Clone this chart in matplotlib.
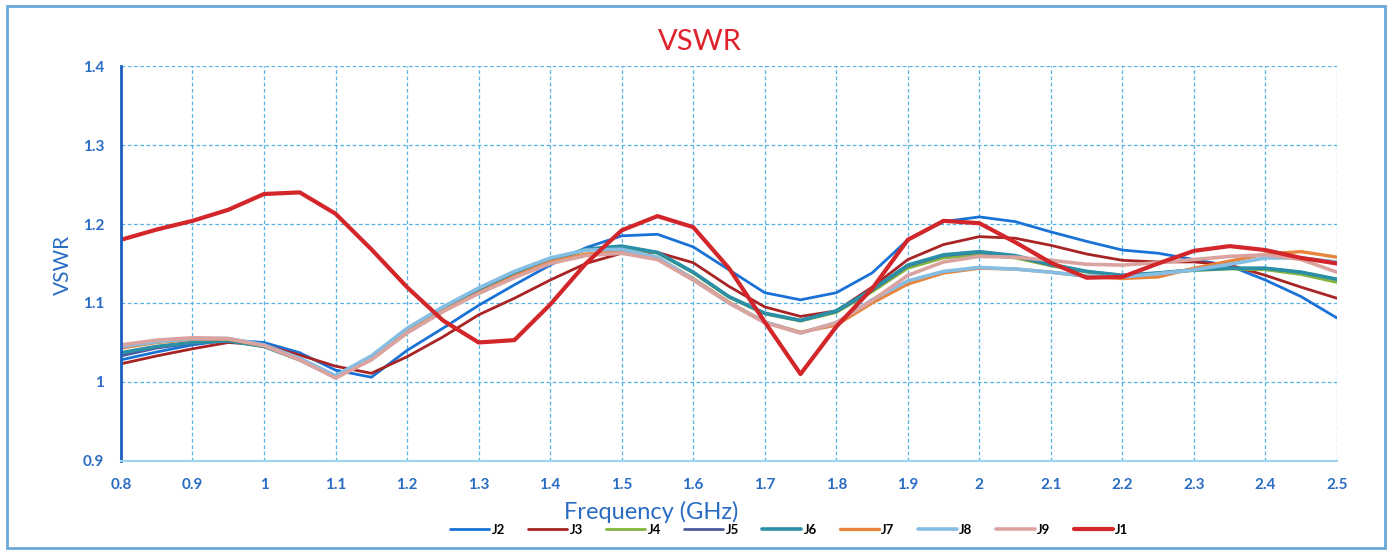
import numpy as np
import matplotlib
matplotlib.use("Agg")
import matplotlib.pyplot as plt
from matplotlib.patches import Rectangle

plt.rcParams['font.family'] = ['Lato', 'DejaVu Sans']

# frequency points (GHz)
freq = [0.80, 0.85, 0.90, 0.95, 1.00, 1.05, 1.10, 1.15, 1.20, 1.25, 1.30, 1.35,
        1.40, 1.45, 1.50, 1.55, 1.60, 1.65, 1.70, 1.75, 1.80, 1.85, 1.90, 1.95,
        2.00, 2.05, 2.10, 2.15, 2.20, 2.25, 2.30, 2.35, 2.40, 2.45, 2.50]

j2 = [1.028, 1.038, 1.047, 1.053, 1.050, 1.037, 1.015, 1.006, 1.040, 1.068, 1.097, 1.123,
      1.148, 1.170, 1.185, 1.187, 1.171, 1.142, 1.113, 1.104, 1.113, 1.138, 1.180, 1.203,
      1.209, 1.203, 1.190, 1.178, 1.167, 1.163, 1.155, 1.147, 1.129, 1.108, 1.081]
j3 = [1.023, 1.033, 1.042, 1.050, 1.047, 1.034, 1.020, 1.011, 1.032, 1.057, 1.085, 1.106,
      1.129, 1.150, 1.163, 1.164, 1.151, 1.121, 1.095, 1.083, 1.090, 1.120, 1.155, 1.174,
      1.184, 1.182, 1.173, 1.162, 1.154, 1.152, 1.152, 1.148, 1.135, 1.120, 1.106]
j4 = [1.035, 1.044, 1.050, 1.052, 1.045, 1.028, 1.006, 1.030, 1.064, 1.091, 1.115, 1.136,
      1.153, 1.167, 1.171, 1.163, 1.138, 1.107, 1.086, 1.077, 1.088, 1.114, 1.144, 1.157,
      1.161, 1.157, 1.147, 1.139, 1.134, 1.137, 1.141, 1.143, 1.142, 1.136, 1.126]
j5 = [1.033, 1.043, 1.049, 1.052, 1.045, 1.028, 1.006, 1.030, 1.064, 1.092, 1.116, 1.137,
      1.154, 1.168, 1.172, 1.164, 1.139, 1.108, 1.087, 1.078, 1.089, 1.116, 1.147, 1.160,
      1.164, 1.159, 1.148, 1.140, 1.135, 1.138, 1.142, 1.144, 1.144, 1.139, 1.130]
j6 = [1.037, 1.045, 1.050, 1.052, 1.045, 1.028, 1.006, 1.030, 1.064, 1.092, 1.116, 1.137,
      1.154, 1.168, 1.172, 1.164, 1.139, 1.108, 1.087, 1.078, 1.090, 1.117, 1.148, 1.161,
      1.165, 1.160, 1.149, 1.140, 1.135, 1.138, 1.142, 1.144, 1.144, 1.139, 1.130]
j7 = [1.043, 1.050, 1.054, 1.054, 1.046, 1.028, 1.006, 1.030, 1.064, 1.090, 1.113, 1.134,
      1.152, 1.162, 1.165, 1.157, 1.131, 1.101, 1.076, 1.063, 1.072, 1.100, 1.124, 1.138,
      1.144, 1.143, 1.139, 1.134, 1.131, 1.133, 1.144, 1.153, 1.162, 1.165, 1.158]
j8 = [1.045, 1.051, 1.055, 1.055, 1.047, 1.030, 1.008, 1.033, 1.068, 1.095, 1.119, 1.140,
      1.157, 1.167, 1.168, 1.158, 1.130, 1.100, 1.076, 1.062, 1.075, 1.104, 1.128, 1.140,
      1.145, 1.143, 1.139, 1.134, 1.133, 1.137, 1.142, 1.149, 1.157, 1.157, 1.152]
j9 = [1.047, 1.053, 1.056, 1.055, 1.046, 1.028, 1.005, 1.028, 1.062, 1.089, 1.112, 1.132,
      1.150, 1.160, 1.163, 1.155, 1.129, 1.100, 1.075, 1.062, 1.075, 1.103, 1.135, 1.152,
      1.159, 1.158, 1.154, 1.149, 1.148, 1.151, 1.155, 1.159, 1.161, 1.155, 1.139]
j1 = [1.180, 1.193, 1.204, 1.218, 1.238, 1.240, 1.213, 1.168, 1.120, 1.078, 1.050, 1.053,
      1.098, 1.150, 1.192, 1.210, 1.196, 1.144, 1.076, 1.010, 1.070, 1.118, 1.180, 1.204,
      1.201, 1.177, 1.151, 1.132, 1.133, 1.150, 1.166, 1.172, 1.167, 1.157, 1.150]

series = [
    ("J2", j2, "#1a72d6", 2.0),
    ("J3", j3, "#a82424", 2.0),
    ("J4", j4, "#84b440", 2.0),
    ("J5", j5, "#4b5c9c", 2.0),
    ("J6", j6, "#2b8fa6", 2.6),
    ("J7", j7, "#e8843c", 2.4),
    ("J8", j8, "#86bde3", 2.6),
    ("J9", j9, "#dba3a0", 2.6),
    ("J1", j1, "#d2262a", 3.0),
]

blue = "#2a6cc4"
grid_c = "#55b4e2"

fig = plt.figure(figsize=(13.92, 5.52), dpi=100)
ax = fig.add_axes([0.0869, 0.1649, 0.8736, 0.7155])

for name, vals, col, lw in series:
    ax.plot(freq, vals, color=col, lw=lw, label=name,
            solid_joinstyle="round", solid_capstyle="round")

ax.set_xlim(0.8, 2.5)
ax.set_ylim(0.9, 1.4)
xt = np.round(np.arange(0.8, 2.51, 0.1), 1)
ax.set_xticks(xt)
ax.set_xticklabels([f"{v:g}" for v in xt])
yt = [0.9, 1.0, 1.1, 1.2, 1.3, 1.4]
ax.set_yticks(yt)
ax.set_yticklabels([f"{v:g}" for v in yt])
ax.tick_params(length=0, labelsize=11, labelcolor=blue, pad=12)
for lab in ax.get_xticklabels() + ax.get_yticklabels():
    lab.set_fontweight("bold")

ax.grid(True, color=grid_c, ls=(0, (3, 2)), lw=0.9)
ax.set_axisbelow(True)
for s in ["top", "right"]:
    ax.spines[s].set_visible(False)
ax.spines["left"].set_color("#1a5fc0")
ax.spines["left"].set_linewidth(2)
ax.spines["bottom"].set_color("#9fd4ee")
ax.spines["bottom"].set_linewidth(1.5)

fig.text(0.503, 0.924, "VSWR", color="#e0222c", fontsize=21, ha="center", va="center")
fig.text(0.045, 0.52, "VSWR", color=blue, fontsize=15, rotation=90,
         ha="center", va="center")
fig.text(0.468, 0.073, "Frequency (GHz)", color=blue, fontsize=17,
         ha="center", va="center")

leg = fig.legend(loc="center", bbox_to_anchor=(0.567, 0.04), ncol=9, frameon=False,
                 handlelength=2.95, columnspacing=1.75, handletextpad=0.2,
                 prop={"size": 9.5, "weight": "bold"})

# outer frame of the chart area
fig.patches.append(Rectangle((0.005, 0.007), 0.99, 0.982, transform=fig.transFigure,
                             fill=False, edgecolor="#6aa8d8", lw=2))

fig.savefig("out.png", dpi=100)
